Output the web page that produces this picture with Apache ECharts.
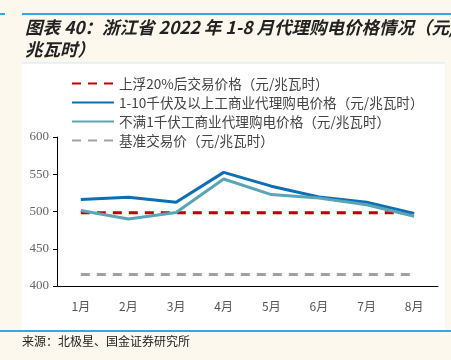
<!DOCTYPE html>
<html><head><meta charset="utf-8">
<script src="https://cdn.jsdelivr.net/npm/echarts@6/dist/echarts.min.js"></script>
<style>html,body{margin:0;padding:0;background:#fcf8ee;}#c{width:451px;height:360px;}</style>
</head><body><div id="c"></div>
<script>
const categories = ['1月','2月','3月','4月','5月','6月','7月','8月'];
const upFloat20 = [498.4,498.4,498.4,498.4,498.4,498.4,498.4,498.4];
const kv1to10 = [516,519,512.5,552.5,534,519.5,512.5,497.5];
const under1kv = [501.3,490,498.7,543.6,522.7,518,509,493.7];
const basePrice = [415.3,415.3,415.3,415.3,415.3,415.3,415.3,415.3];
const seriesNames = ['上浮20%后交易价格（元/兆瓦时）','1-10千伏及以上工商业代理购电价格（元/兆瓦时）','不满1千伏工商业代理购电价格（元/兆瓦时）','基准交易价（元/兆瓦时）'];
const yTicks = {min:400,max:600,interval:50};
const FONT = '"Noto Sans CJK SC", sans-serif';

const chart = echarts.init(document.getElementById('c'));
chart.setOption({
  backgroundColor:'#fcf8ee',
  animation:false,
  graphic:[
    {type:'rect',shape:{x:22,y:63,width:423,height:267},style:{fill:'#ffffff'},z:-10},
    {type:'line',shape:{x1:22,y1:14,x2:451,y2:14},style:{stroke:'#3aa6e0',lineWidth:2}},
    {type:'line',shape:{x1:0,y1:14,x2:5,y2:14},style:{stroke:'#3aa6e0',lineWidth:2}},
    {type:'line',shape:{x1:22,y1:63,x2:445,y2:63},style:{stroke:'#cfe9f7',lineWidth:1}},
    {type:'line',shape:{x1:0,y1:331,x2:451,y2:331},style:{stroke:'#3aa6e0',lineWidth:2}},
    {type:'text',left:22,top:335,style:{text:'来源：北极星、国金证券研究所',fill:'#222',font:'12px '+FONT}}
  ],
  title:{
    text:'图表 40：浙江省 2022 年 1-8 月代理购电价格情况（元/\n兆瓦时）',
    left:20,top:11,
    textStyle:{fontSize:17.5,fontStyle:'italic',fontWeight:'bold',color:'#222',fontFamily:FONT,lineHeight:22}
  },
  legend:{
    orient:'vertical',left:66,top:71,itemWidth:42,itemHeight:10,itemGap:4,
    itemStyle:{opacity:0},
    textStyle:{fontSize:13.6,color:'#444',fontFamily:FONT,lineHeight:15},
    data:seriesNames
  },
  grid:{left:57,right:13,top:137,bottom:74,containLabel:false},
  xAxis:{
    type:'category',data:categories,boundaryGap:true,
    axisLine:{lineStyle:{color:'#000',width:1}},
    axisTick:{show:false},
    axisLabel:{color:'#555',fontSize:12,fontFamily:FONT,margin:14}
  },
  yAxis:{
    type:'value',min:yTicks.min,max:yTicks.max,interval:yTicks.interval,
    axisLine:{show:true,lineStyle:{color:'#000',width:1}},
    axisTick:{show:true,length:4,inside:false,lineStyle:{color:'#000'}},
    splitLine:{show:false},
    axisLabel:{color:'#666',fontSize:13,fontFamily:'"Liberation Serif", serif',margin:8}
  },
  series:[
    {name:seriesNames[0],type:'line',data:upFloat20,symbol:'none',z:3,
     lineStyle:{color:'#c00000',width:3,type:[9,7]},itemStyle:{color:'#c00000'}},
    {name:seriesNames[1],type:'line',data:kv1to10,symbol:'none',z:4,
     lineStyle:{color:'#0e6eb4',width:3},itemStyle:{color:'#0e6eb4'}},
    {name:seriesNames[2],type:'line',data:under1kv,symbol:'none',z:5,
     lineStyle:{color:'#5aa5b5',width:3},itemStyle:{color:'#5aa5b5'}},
    {name:seriesNames[3],type:'line',data:basePrice,symbol:'none',z:3,
     lineStyle:{color:'#a0a0a0',width:3,type:[9,7]},itemStyle:{color:'#a0a0a0'}}
  ]
});
</script></body></html>
